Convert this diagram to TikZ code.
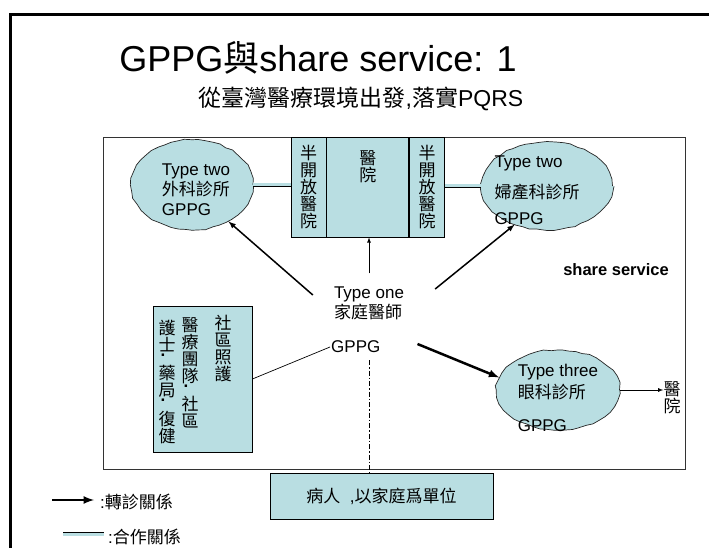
\documentclass[tikz,border=0pt]{standalone}
\usepackage{fontspec}
\setmainfont{Liberation Sans}
\newfontfamily\cjk{Noto Sans CJK TC}
\usetikzlibrary{positioning,shapes.geometric,decorations.pathmorphing}
\definecolor{pqrsblue}{RGB}{185,222,226}
\newcommand\vdot{\makebox[0pt][l]{\raisebox{-5pt}{\hspace{2pt}\rmfamily\bfseries .}}}

\begin{document}
\begin{tikzpicture}[x=1pt, y=-1pt, >=latex,
  box/.style={draw, fill=pqrsblue, line width=0.8pt, inner sep=0pt},
  clinic/.style={ellipse, draw=black!85, fill=pqrsblue, line width=0.7pt, inner sep=0pt,
    decorate, decoration={random steps, segment length=7pt, amplitude=0.8pt}},
  vtext/.style={align=center, font=\cjk\fontsize{17}{17}\selectfont, inner sep=0pt},
  txt/.style={align=left, font=\fontsize{17}{20}\selectfont, inner sep=1pt},
  refer/.style={->, line width=1.5pt},
  coop/.style={double=pqrsblue, double distance=3pt, line width=0.8pt},
]
  \useasboundingbox (0,0) rectangle (709,548);
  % slide frame
  \draw[line width=2.7pt] (10.3,548) -- (10.3,14.7) -- (709,14.7);

  % titles
  \node[font=\fontsize{36}{40}\selectfont] (title) at (318,58) {GPPG{\cjk 與}share service: 1};
  \node[font=\fontsize{23}{26}\selectfont] (subtitle) at (361,99) {{\cjk 從臺灣醫療環境出發},{\cjk 落實}PQRS};

  % service area
  \draw[line width=0.8pt, black!80] (103,137) rectangle (685,469);
  \node[font=\bfseries\fontsize{16.5}{20}\selectfont] (share) at (616,270) {share service};

  % hospital block
  \node[box, vtext, minimum width=35pt, minimum height=100pt] (lsemi) at (308.5,187) {半\\開\\放\\醫\\院};
  \node[box, minimum width=82pt, minimum height=100pt, right=0pt of lsemi] (hosp) {};
  \node[box, vtext, minimum width=35pt, minimum height=100pt, right=0pt of hosp] (rsemi) {半\\開\\放\\醫\\院};
  \node[vtext, below=14pt of hosp.north] (hosptxt) {醫\\院};

  % clinics
  \node[clinic, minimum width=122pt, minimum height=90pt] (ltwo) at (192,185) {};
  \node[txt] (ltwotxt) at (196,190) {Type two\\{\cjk 外科診所}\\GPPG};
  \node[clinic, minimum width=131pt, minimum height=88pt] (rtwo) at (547,186) {};
  \node[txt] (rtwotxt) at (537,190) {Type two\\[11pt]{\cjk 婦產科診所}\\[6pt]GPPG};
  \node[clinic, minimum width=123pt, minimum height=80pt] (tthree) at (558,390) {};
  \node[txt] (tthreetxt) at (558,398) {Type three\\[2pt]{\cjk 眼科診所}\\[13pt]GPPG};
  \node[vtext] (thosp) at (672,398) {醫\\院};

  % family doctor
  \node[txt] (famdoc) at (369,303) {Type one\\{\cjk 家庭醫師}};
  \node[txt, anchor=west] (famgppg) at (330,347) {GPPG};

  % community care
  \node[box, minimum width=99pt, minimum height=146pt] (commbox) at (202.5,379) {};
  \node[vtext, anchor=north] (commcare) at (223,315) {社\\區\\照\\護};
  \node[vtext, anchor=north] (commteam) at (190,317) {醫\\療\\團\\\vdot 隊\\[8pt]社\\區};
  \node[vtext, anchor=north] (commstaff) at (167,320) {護\\\vdot 士\\[8pt]藥\\\vdot 局\\[8pt]復\\健};

  % patient
  \node[box, font=\fontsize{17}{20}\selectfont, minimum width=223pt, minimum height=46pt] (patient) at (381.5,496) {{\cjk 病人}\ \ ,{\cjk 以家庭爲單位}};

  % connections
  \draw[coop] (ltwo.east) -- (ltwo.east -| lsemi.west);
  \draw[coop] (rsemi.east |- rtwo.west) -- (rtwo.west);
  \draw[refer] ([xshift=-20pt,yshift=8pt]famdoc.west) -- (ltwo.-45);
  \draw[refer] ([xshift=30pt,yshift=14pt]famdoc.east) -- (rtwo.-130);
  \draw[refer, line width=2.5pt] ([xshift=36pt,yshift=3pt]famgppg.east) -- (tthree.168);
  \draw[->, line width=0.8pt] ([yshift=12pt]famdoc.north) -- (famdoc.north |- hosp.south);
  \draw[line width=0.7pt] (commbox.east) -- (famgppg.west);
  \draw[line width=0.8pt, dash pattern=on 5pt off 2pt on 1.5pt off 2pt, shorten <=6pt] (famgppg.south -| famdoc.south) -- (patient.north -| famdoc.south);
  \draw[->, line width=0.8pt] (tthree.east) -- (tthree.east -| thosp.west);

  % legend
  \node[txt, anchor=west] (legref) at (99,502) {:{\cjk 轉診關係}};
  \coordinate (legrefstart) at (52,500);
  \draw[refer, line width=2.5pt, shorten >=5pt] (legrefstart) -- (legrefstart -| legref.west);
  \node[txt, anchor=west] (legcoop) at (107,537) {:{\cjk 合作關係}};
  \coordinate (legcoopstart) at (63,534);
  \draw[coop, shorten >=3pt] (legcoopstart) -- (legcoopstart -| legcoop.west);
\end{tikzpicture}
\end{document}
